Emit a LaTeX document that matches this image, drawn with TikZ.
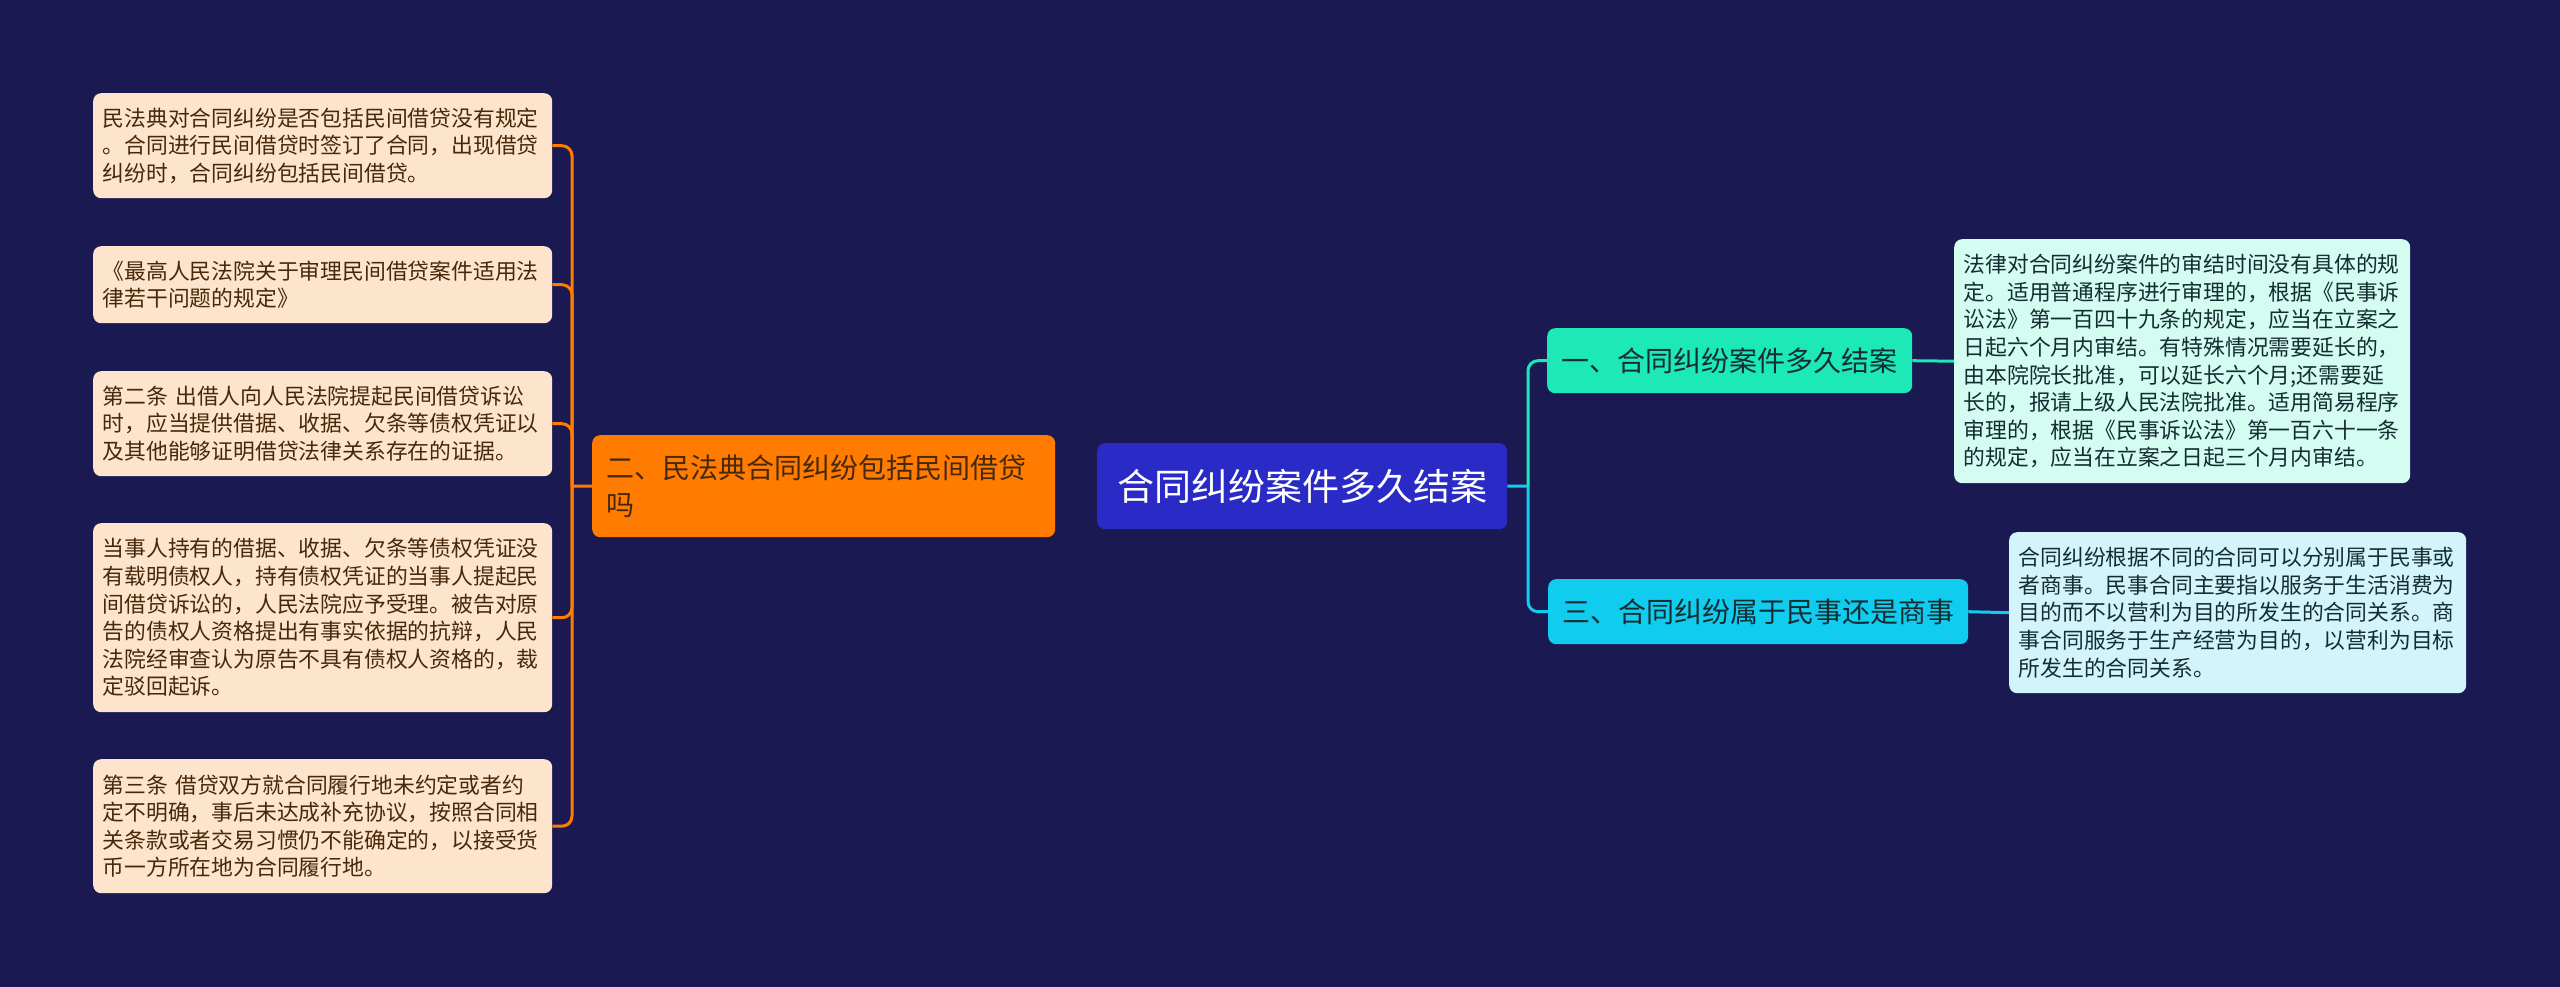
\documentclass[tikz,border=0pt]{standalone}
\usepackage{fontspec}
\setmainfont{Noto Sans CJK SC}
\definecolor{bgc}{RGB}{26,25,82}
\definecolor{centerc}{RGB}{42,42,198}
\definecolor{orangec}{RGB}{255,124,0}
\definecolor{peachc}{RGB}{253,229,205}
\definecolor{browntext}{RGB}{72,40,10}
\definecolor{tealc}{RGB}{28,232,184}
\definecolor{cyanc}{RGB}{16,204,238}
\definecolor{mintc}{RGB}{212,252,240}
\definecolor{lcyanc}{RGB}{212,244,252}
\definecolor{darktext}{RGB}{20,45,50}
\tikzset{
  box/.style={rounded corners=8pt, anchor=north west, align=left, inner ysep=0pt},
  leaffont/.style={font=\fontsize{21.8}{27.6}\selectfont},
  leftleaf/.style={box, leaffont, fill=peachc, text=browntext, text width=440pt, inner xsep=9.5pt},
  rightleaf/.style={box, leaffont, text=darktext, inner xsep=9.5pt},
  branchbox/.style={box, font=\fontsize{28}{36}\selectfont, text=darktext, inner xsep=14pt},
  conn/.style={line width=3pt, rounded corners=10pt},
}
\begin{document}
\begin{tikzpicture}[x=1pt,y=-1pt]
\fill[bgc] (0,0) rectangle (2560,987);
\useasboundingbox (0,0) rectangle (2560,987);

% center
\node[box, fill=centerc, text=white, font=\fontsize{37}{44}\selectfont, text width=370pt, inner xsep=20pt, minimum height=86pt] (center) at (1097,443) {合同纠纷案件多久结案};

% left main branch
\node[box, fill=orangec, text=browntext, font=\fontsize{28}{37}\selectfont, text width=435pt, inner xsep=14pt, minimum height=102pt] (orange) at (592,435) {二、民法典合同纠纷包括民间借贷\\吗};

% left leaves
\node[leftleaf, minimum height=105pt] (L1) at (93,93) {民法典对合同纠纷是否包括民间借贷没有规定\\。合同进行民间借贷时签订了合同，出现借贷\\纠纷时，合同纠纷包括民间借贷。};
\node[leftleaf, minimum height=77pt] (L2) at (93,246) {《最高人民法院关于审理民间借贷案件适用法\\律若干问题的规定》};
\node[leftleaf, minimum height=105pt] (L3) at (93,371) {第二条 出借人向人民法院提起民间借贷诉讼\\时，应当提供借据、收据、欠条等债权凭证以\\及其他能够证明借贷法律关系存在的证据。};
\node[leftleaf, minimum height=189pt] (L4) at (93,523) {当事人持有的借据、收据、欠条等债权凭证没\\有载明债权人，持有债权凭证的当事人提起民\\间借贷诉讼的，人民法院应予受理。被告对原\\告的债权人资格提出有事实依据的抗辩，人民\\法院经审查认为原告不具有债权人资格的，裁\\定驳回起诉。};
\node[leftleaf, minimum height=134pt] (L5) at (93,759) {第三条 借贷双方就合同履行地未约定或者约\\定不明确，事后未达成补充协议，按照合同相\\关条款或者交易习惯仍不能确定的，以接受货\\币一方所在地为合同履行地。};

% right branches
\node[branchbox, fill=tealc, text width=337pt, minimum height=65pt] (B1) at (1547,328) {一、合同纠纷案件多久结案};
\node[branchbox, fill=cyanc, text width=392pt, minimum height=65pt] (B2) at (1548,579) {三、合同纠纷属于民事还是商事};

% right leaves
\node[rightleaf, fill=mintc, text width=437pt, minimum height=244pt] (R1) at (1954,239) {法律对合同纠纷案件的审结时间没有具体的规\\定。适用普通程序进行审理的，根据《民事诉\\讼法》第一百四十九条的规定，应当在立案之\\日起六个月内审结。有特殊情况需要延长的，\\由本院院长批准，可以延长六个月;还需要延\\长的，报请上级人民法院批准。适用简易程序\\审理的，根据《民事诉讼法》第一百六十一条\\的规定，应当在立案之日起三个月内审结。};
\node[rightleaf, fill=lcyanc, text width=438pt, minimum height=161pt] (R2) at (2009,532) {合同纠纷根据不同的合同可以分别属于民事或\\者商事。民事合同主要指以服务于生活消费为\\目的而不以营利为目的所发生的合同关系。商\\事合同服务于生产经营为目的，以营利为目标\\所发生的合同关系。};

% connectors left
\coordinate (lb) at (572,486);
\draw[conn, orangec] (orange.west) -- (lb);
\foreach \n in {L1,L2,L3,L4,L5}{
  \draw[conn, orangec] (lb) |- (\n.east);
}

% connectors right
\coordinate (rb) at (1528,486);
\draw[conn, cyanc] (center.east) -- (rb);
\draw[conn, tealc] (rb) |- (B1.west);
\draw[conn, cyanc] (rb) |- (B2.west);
\draw[conn, tealc] (B1.east) -- (R1.west);
\draw[conn, cyanc] (B2.east) -- (R2.west);
\end{tikzpicture}
\end{document}
